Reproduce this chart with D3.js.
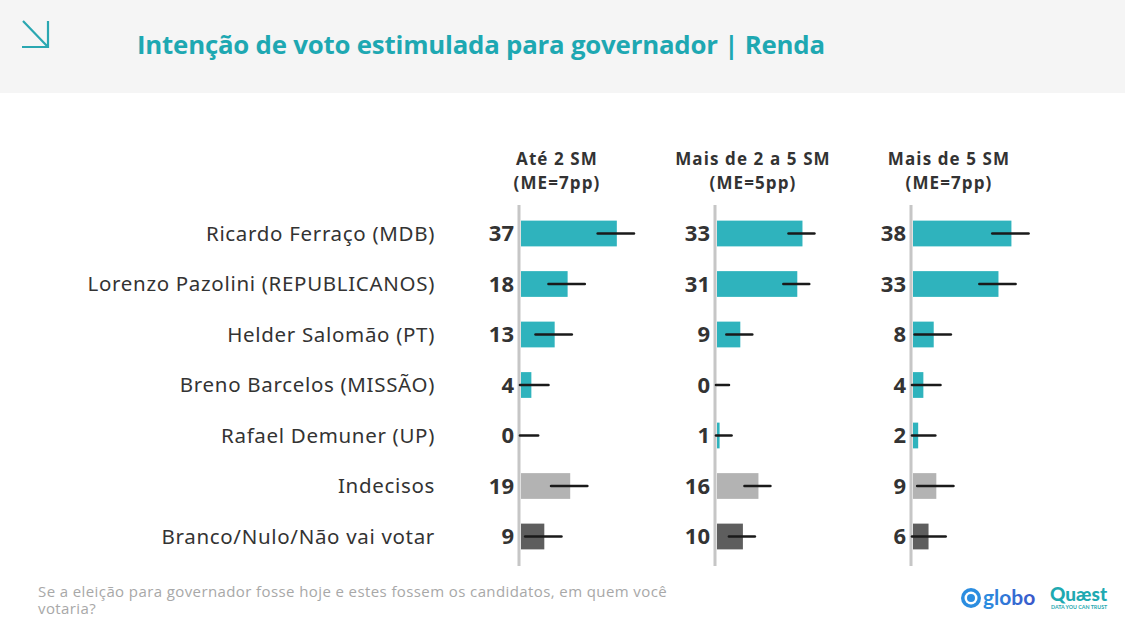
<!DOCTYPE html>
<html><head><meta charset="utf-8">
<script src="https://cdn.jsdelivr.net/npm/d3@7"></script>
<style>body{margin:0;background:#fff}svg{display:block}</style>
</head><body>
<script>
const candidates = ["Ricardo Ferraço (MDB)","Lorenzo Pazolini (REPUBLICANOS)","Helder Salomão (PT)","Breno Barcelos (MISSÃO)","Rafael Demuner (UP)","Indecisos","Branco/Nulo/Não vai votar"];
const groups = ["Até 2 SM","Mais de 2 a 5 SM","Mais de 5 SM"];
const margins = [7,5,7];
const valuesAte2 = [37,18,13,4,0,19,9];
const values2a5 = [33,31,9,0,1,16,10];
const valuesMais5 = [38,33,8,4,2,9,6];
const seriesValues = [valuesAte2, values2a5, valuesMais5];
const kinds = ["cand","cand","cand","cand","cand","undecided","blank"];
const colors = {cand:"#2fb3bd", undecided:"#b3b3b3", blank:"#5e5e5e"};
const title = "Intenção de voto estimulada para governador | Renda";
const footnote = ["Se a eleição para governador fosse hoje e estes fossem os candidatos, em quem você","votaria?"];

const W=1125,H=630;
const svg=d3.select("body").append("svg").attr("width",W).attr("height",H);
svg.append("rect").attr("width",W).attr("height",H).attr("fill","#fff");
svg.append("rect").attr("width",W).attr("height",93).attr("fill","#f5f5f5");
// arrow icon
const ic=svg.append("g").attr("stroke","#2aa7b1").attr("stroke-width",2.2).attr("fill","none");
ic.append("path").attr("d","M23,21 L47,46 M48,21 L48,47 L22,47");
svg.append("text").attr("x",137).attr("y",54).attr("fill","#1ea8b2")
 .attr("font-family","'Open Sans', sans-serif").attr("font-weight",700).attr("font-size",25.8)
 .attr("letter-spacing",-0.2).text(title);

const y=d3.scaleBand().domain(candidates).range([208,562]).paddingInner(0.49).paddingOuter(0.25);
const x0=d3.scaleBand().domain(groups).range([520,1108]).paddingInner(0);
const x=d3.scaleLinear().domain([0,100]).range([0,259]);

svg.append("g").selectAll("text").data(candidates).join("text")
 .attr("x",435).attr("y",d=>y(d)+y.bandwidth()/2).attr("dy","0.35em").attr("text-anchor","end")
 .attr("font-family","'Noto Sans', sans-serif").attr("font-size",20.5).attr("letter-spacing",0.68)
 .attr("fill","#333").text(d=>d);

groups.forEach((g,gi)=>{
  const gx=x0(g);
  const pg=svg.append("g").attr("transform",`translate(${gx},0)`);
  const ht=pg.append("text").attr("text-anchor","middle")
   .attr("font-family","'Open Sans', sans-serif").attr("font-weight",700).attr("font-size",17)
   .attr("letter-spacing",1.1).attr("fill","#333");
  ht.append("tspan").attr("x",37).attr("y",165).text(g);
  ht.append("tspan").attr("x",37).attr("y",188.5).text(`(ME=${margins[gi]}pp)`);
  const vals=seriesValues[gi];
  pg.selectAll("rect.bar").data(vals).join("rect").attr("class","bar")
   .attr("x",1).attr("y",(d,i)=>y(candidates[i])).attr("height",y.bandwidth())
   .attr("width",d=>x(d)).attr("fill",(d,i)=>colors[kinds[i]]);
  pg.append("line").attr("x1",-1).attr("x2",-1).attr("y1",205).attr("y2",566)
   .attr("stroke","#c6c6c6").attr("stroke-width",3);
  pg.selectAll("line.err").data(vals).join("line").attr("class","err")
   .attr("x1",d=>x(Math.max(0,d-margins[gi]))).attr("x2",d=>x(d+margins[gi]))
   .attr("y1",(d,i)=>y(candidates[i])+y.bandwidth()/2).attr("y2",(d,i)=>y(candidates[i])+y.bandwidth()/2)
   .attr("stroke","#1a1a1a").attr("stroke-width",2.6).attr("stroke-linecap","round");
  pg.selectAll("text.val").data(vals).join("text").attr("class","val")
   .attr("x",-6).attr("y",(d,i)=>y(candidates[i])+y.bandwidth()/2).attr("dy","0.36em").attr("text-anchor","end")
   .attr("font-family","'Open Sans', sans-serif").attr("font-weight",700).attr("font-size",22).attr("fill","#333").text(d=>d);
});

const ft=svg.append("text").attr("font-family","'Open Sans', sans-serif")
 .attr("font-size",15).attr("letter-spacing",0.4).attr("fill","#a8a8a8");
ft.selectAll("tspan").data(footnote).join("tspan").attr("x",38).attr("y",(d,i)=>597+i*17).text(d=>d);

// globo logo
const gdef=svg.append("defs").append("linearGradient").attr("id","gg").attr("x1","0").attr("x2","1");
gdef.append("stop").attr("offset","0").attr("stop-color","#2a8fe0");
gdef.append("stop").attr("offset","1").attr("stop-color","#3b56c9");
const gl=svg.append("g");
gl.append("circle").attr("cx",971).attr("cy",598).attr("r",10).attr("fill","#2b8de0");
gl.append("circle").attr("cx",971).attr("cy",598).attr("r",6.5).attr("fill","#fff");
gl.append("circle").attr("cx",971).attr("cy",598).attr("r",4).attr("fill","#2b8de0");
gl.append("text").attr("x",983).attr("y",605).attr("font-family","Lato, sans-serif").attr("font-weight",700)
 .attr("font-size",21).attr("fill","url(#gg)").text("globo");
// quaest logo
svg.append("text").attr("x",1050).attr("y",601).attr("font-family","Lato, sans-serif").attr("font-weight",900)
 .attr("font-size",19).attr("fill","#1fa9b1").text("Quæst");
svg.append("text").attr("x",1051).attr("y",609).attr("font-family","Lato, sans-serif").attr("font-weight",700)
 .attr("font-size",5.3).attr("fill","#1fa9b1").text("DATA YOU CAN TRUST");
</script>
</body></html>
